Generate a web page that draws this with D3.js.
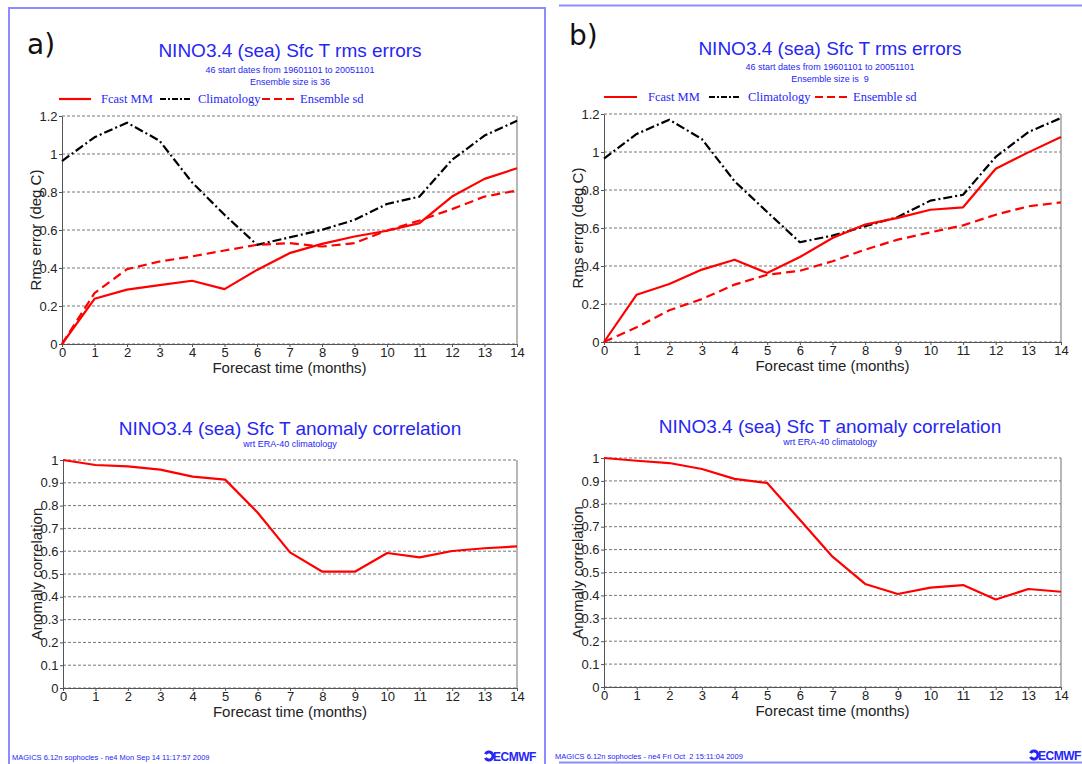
<!DOCTYPE html>
<html>
<head>
<meta charset="utf-8">
<script src="https://cdn.jsdelivr.net/npm/d3@7"></script>
<style>
  html, body { margin: 0; padding: 0; background: #fff; }
  svg { display: block; }
</style>
</head>
<body>
<svg id="chart" width="1082" height="764" font-family="'Liberation Sans', Arial, sans-serif"></svg>
<script>
// ---------- data ----------
const leadMonths = [0,1,2,3,4,5,6,7,8,9,10,11,12,13,14];
const rmsTicks = [0,0.2,0.4,0.6,0.8,1,1.2];
const accTicks = [0,0.1,0.2,0.3,0.4,0.5,0.6,0.7,0.8,0.9,1];

// panel a) ensemble size 36
const fcastMM_a      = [0,0.238,0.286,0.31,0.333,0.289,0.39,0.478,0.527,0.566,0.596,0.636,0.776,0.869,0.925];
const climatology_a  = [0.963,1.088,1.165,1.07,0.851,0.68,0.522,0.561,0.601,0.653,0.737,0.776,0.969,1.097,1.175];
const ensembleSd_a   = [0,0.268,0.394,0.434,0.461,0.492,0.522,0.531,0.513,0.531,0.597,0.65,0.71,0.776,0.808];
const anomCorr_a     = [1,0.978,0.972,0.958,0.927,0.914,0.77,0.595,0.51,0.51,0.592,0.573,0.601,0.613,0.621];

// panel b) ensemble size 9
const fcastMM_b      = [0,0.249,0.305,0.381,0.433,0.363,0.447,0.547,0.618,0.653,0.696,0.709,0.912,0.998,1.079];
const climatology_b  = [0.965,1.095,1.17,1.068,0.846,0.684,0.525,0.56,0.609,0.658,0.744,0.775,0.974,1.105,1.179];
const ensembleSd_b   = [0,0.077,0.167,0.226,0.302,0.354,0.375,0.425,0.486,0.539,0.577,0.614,0.67,0.714,0.735];
const anomCorr_b     = [1,0.988,0.978,0.952,0.909,0.891,0.73,0.569,0.45,0.406,0.434,0.445,0.382,0.428,0.416];

const legendLabels = ["Fcast MM","Climatology","Ensemble sd"];

// ---------- styles ----------
const BLUE = "#2626f5";
const FRAME = "#8c8cff";
const RED = "#ff0000";
const DASHDOT = "9,3,2,3";
const DASHED = "9,5";
const SANS = "'Liberation Sans', Arial, sans-serif";
const SERIF = "'Liberation Serif', 'Times New Roman', serif";

const svg = d3.select("#chart");

// panel frames
const frames = svg.append("g").attr("fill","none").attr("stroke",FRAME).attr("stroke-width",2);
frames.append("path").attr("d","M9,764 V8 H545 V764");
frames.append("path").attr("d","M559,5.5 H1082");
frames.append("path").attr("d","M559,762.5 H1082");

function lineChart(opts) {
  const {x0,x1,y0,y1,ymax,ticks,series,ylabel,fmt} = opts;
  const xs = d3.scaleLinear().domain([0,14]).range([x0,x1]);
  const ys = d3.scaleLinear().domain([0,ymax]).range([y0,y1]);
  const g = svg.append("g");

  // grid
  g.append("g").selectAll("line").data(ticks).join("line")
    .attr("x1",x0).attr("x2",x1)
    .attr("y1",d=>ys(d)).attr("y2",d=>ys(d))
    .attr("stroke","#777").attr("stroke-width",1).attr("stroke-dasharray","3,2");

  // right border
  g.append("line").attr("x1",x1).attr("x2",x1).attr("y1",y0).attr("y2",y1)
    .attr("stroke","#888").attr("stroke-width",1.2);

  // y axis
  const ya = g.append("g").attr("transform",`translate(${x0},0)`)
    .call(d3.axisLeft(ys).tickValues(ticks).tickSize(3).tickSizeOuter(0).tickFormat(fmt));
  ya.select(".domain").attr("stroke","#555");
  ya.selectAll(".tick line").attr("stroke","#555");
  ya.selectAll("text").attr("font-size",13).attr("fill","#222")
    .attr("font-family",SANS).attr("dx","1.5");

  // x axis
  const xa = g.append("g").attr("transform",`translate(0,${y0})`)
    .call(d3.axisBottom(xs).tickValues(leadMonths).tickSize(3).tickSizeOuter(0));
  xa.select(".domain").attr("stroke","#555");
  xa.selectAll(".tick line").attr("stroke","#555");
  xa.selectAll("text").attr("font-size",13).attr("fill","#222")
    .attr("font-family",SANS).attr("dy","0.5em");

  // labels
  g.append("text").attr("x",(x0+x1)/2).attr("y",y0+29).attr("text-anchor","middle")
    .attr("font-size",15).attr("fill","#222").text("Forecast time (months)");
  g.append("text").attr("transform",`translate(${x0-21},${(y0+y1)/2}) rotate(-90)`)
    .attr("text-anchor","middle").attr("font-size",15).attr("fill","#222").text(ylabel);

  // series
  const line = d3.line().x((d,i)=>xs(leadMonths[i])).y(d=>ys(d));
  series.forEach(s=>{
    g.append("path").datum(s.values).attr("d",line).attr("fill","none")
      .attr("stroke",s.color).attr("stroke-width",2.2)
      .attr("stroke-dasharray",s.dash||null).attr("stroke-linejoin","round");
  });
}

function titles(cx, ty, title, subs, subY) {
  svg.append("text").attr("x",cx).attr("y",ty).attr("text-anchor","middle")
    .attr("font-size",19).attr("fill",BLUE).text(title);
  subs.forEach((s,i)=>{
    svg.append("text").attr("x",cx).attr("y",subY[i]).attr("text-anchor","middle")
      .attr("font-size",9).attr("fill",BLUE).style("white-space","pre").text(s);
  });
}

function legend(xs, y) {
  const styles = [{c:RED,d:null},{c:"#000",d:"6,2,2,2"},{c:RED,d:"8,4"}];
  legendLabels.forEach((lab,i)=>{
    const [lx0,lx1,tx] = xs[i];
    svg.append("line").attr("x1",lx0).attr("x2",lx1).attr("y1",y).attr("y2",y)
      .attr("stroke",styles[i].c).attr("stroke-width",2.2).attr("stroke-dasharray",styles[i].d);
    svg.append("text").attr("x",tx).attr("y",y+4).attr("font-size",12.5)
      .attr("font-family",SERIF).attr("fill",BLUE).text(lab);
  });
}

// ---------- panel a ----------
svg.append("text").attr("x",27).attr("y",54).attr("font-size",28).attr("fill","#111")
  .attr("font-family","'DejaVu Sans', sans-serif").text("a)");
titles(290, 57, "NINO3.4 (sea) Sfc T rms errors",
  ["46 start dates from 19601101 to 20051101","Ensemble size is 36"],[73,85]);
legend([[59,91,101],[160,192,198],[262,295,300]], 99);
lineChart({x0:62,x1:517,y0:344,y1:116,ymax:1.2,ticks:rmsTicks,
  ylabel:"Rms error (deg C)", fmt:d3.format("~g"),
  series:[{values:climatology_a,color:"#000",dash:DASHDOT},
          {values:ensembleSd_a,color:RED,dash:DASHED},
          {values:fcastMM_a,color:RED}]});

titles(290, 435, "NINO3.4 (sea) Sfc T anomaly correlation", ["wrt ERA-40 climatology"], [447]);
lineChart({x0:63,x1:517,y0:688,y1:460,ymax:1,ticks:accTicks,
  ylabel:"Anomaly correlation", fmt:d3.format("~g"),
  series:[{values:anomCorr_a,color:RED}]});

// ---------- panel b ----------
svg.append("text").attr("x",569).attr("y",45).attr("font-size",28).attr("fill","#111")
  .attr("font-family","'DejaVu Sans', sans-serif").text("b)");
titles(830, 55, "NINO3.4 (sea) Sfc T rms errors",
  ["46 start dates from 19601101 to 20051101","Ensemble size is  9"],[70,82]);
legend([[604,637,648],[709,741,748],[815,847,853]], 97);
lineChart({x0:604,x1:1061,y0:342,y1:114,ymax:1.2,ticks:rmsTicks,
  ylabel:"Rms error (deg C)", fmt:d3.format("~g"),
  series:[{values:climatology_b,color:"#000",dash:DASHDOT},
          {values:ensembleSd_b,color:RED,dash:DASHED},
          {values:fcastMM_b,color:RED}]});

titles(830, 433, "NINO3.4 (sea) Sfc T anomaly correlation", ["wrt ERA-40 climatology"], [445]);
lineChart({x0:604,x1:1061,y0:687,y1:458,ymax:1,ticks:accTicks,
  ylabel:"Anomaly correlation", fmt:d3.format("~g"),
  series:[{values:anomCorr_b,color:RED}]});

// ---------- footers ----------
function footer(x, y, txt, lx) {
  svg.append("text").attr("x",x).attr("y",y).attr("font-size",7.5).attr("fill",BLUE)
    .style("white-space","pre").text(txt);
  // ECMWF logo: bold C mark + lettering
  svg.append("path")
    .attr("d", d3.arc().innerRadius(2.5).outerRadius(5.5).startAngle(Math.PI*0.15).endAngle(Math.PI*1.85)())
    .attr("transform",`translate(${lx+5},${y-4}) rotate(-90)`).attr("fill",BLUE);
  svg.append("text").attr("x",lx+9).attr("y",y+1).attr("font-size",12).attr("font-weight","bold")
    .attr("fill",BLUE).attr("font-family",SANS).attr("letter-spacing","-0.5").text("ECMWF");
}
footer(12, 760, "MAGICS 6.12n sophocles - ne4 Mon Sep 14 11:17:57 2009", 484);
footer(555, 759, "MAGICS 6.12n sophocles - ne4 Fri Oct  2 15:11:04 2009", 1029);
</script>
</body>
</html>
